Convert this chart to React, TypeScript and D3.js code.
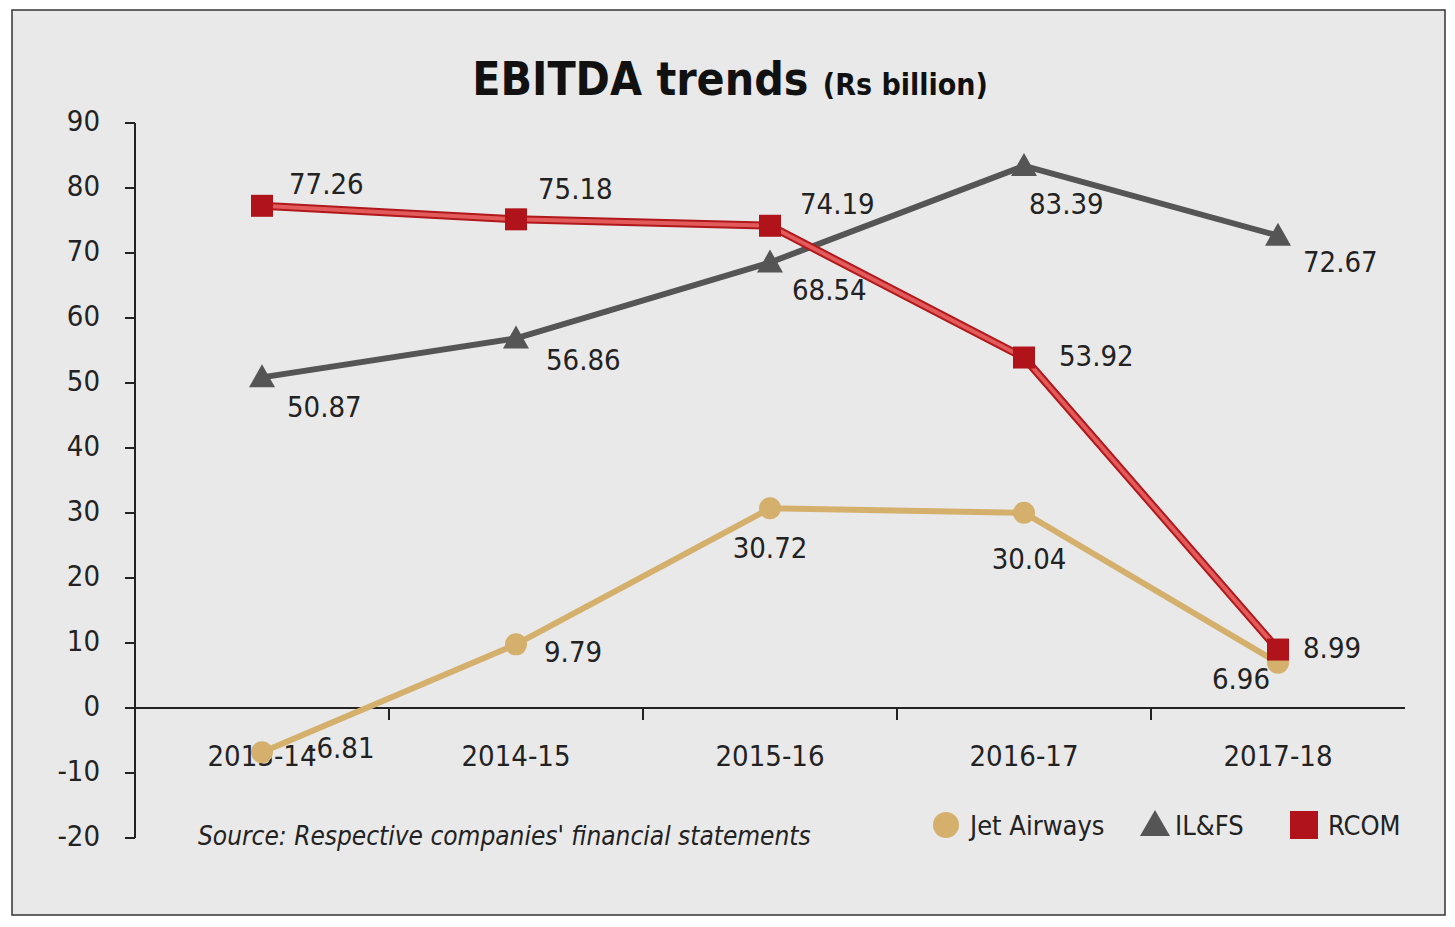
import React from "react";
import * as d3 from "d3";

const categories = ["2013-14", "2014-15", "2015-16", "2016-17", "2017-18"];
const jetAirways = [-6.81, 9.79, 30.72, 30.04, 6.96];
const ilfs = [50.87, 56.86, 68.54, 83.39, 72.67];
const rcom = [77.26, 75.18, 74.19, 53.92, 8.99];
const yTicks = [90, 80, 70, 60, 50, 40, 30, 20, 10, 0, -10, -20];

// label offsets [dx, dy, anchor]
const jetOff: [number, number, string][] = [[45, -2, "start"], [28, 10, "start"], [0, 42, "middle"], [5, 48, "middle"], [-8, 18, "end"]];
const ilfsOff: [number, number, string][] = [[25, 32, "start"], [30, 24, "start"], [22, 30, "start"], [5, 40, "start"], [25, 28, "start"]];
const rcomOff: [number, number, string][] = [[27, -20, "start"], [22, -28, "start"], [30, -20, "start"], [35, 0, "start"], [25, 0, "start"]];

const font = "'Liberation Sans Narrow', 'DejaVu Sans Condensed', Arial, sans-serif";

export default function App() {
  const x = d3.scaleBand().domain(categories).range([135, 1405]);
  const y = d3.scaleLinear().domain([-20, 90]).range([838, 123]);
  const cx = (c: string) => (x(c) as number) + x.bandwidth() / 2;
  const line = d3.line<number>().x((_, i) => cx(categories[i])).y((d) => y(d));

  const labels = (vals: number[], off: [number, number, string][]) =>
    vals.map((v, i) => (
      <text key={i} x={cx(categories[i]) + off[i][0]} y={y(v) + off[i][1]} textAnchor={off[i][2] as any}
        fontSize={29} fill="#222" dominantBaseline="middle">{v.toFixed(2)}</text>
    ));

  return (
    <svg width={1455} height={927} style={{ position: "absolute", left: 0, top: 0 }} fontFamily={font}>
      <rect x={0} y={0} width={1455} height={927} fill="#fff" />
      <rect x={12} y={10} width={1433} height={905} fill="#e9e9e9" stroke="#333" strokeWidth={1.5} />
      <text x={730} y={95} textAnchor="middle" fontWeight="bold" fill="#111">
        <tspan fontSize={46}>EBITDA trends </tspan>
        <tspan fontSize={30}>(Rs billion)</tspan>
      </text>
      <line x1={135} x2={135} y1={123} y2={838} stroke="#222" strokeWidth={2} />
      {yTicks.map((t) => (
        <g key={t}>
          <line x1={125} x2={135} y1={y(t)} y2={y(t)} stroke="#222" strokeWidth={2} />
          <text x={100} y={y(t)} textAnchor="end" dominantBaseline="middle" fontSize={29} fill="#222">{t}</text>
        </g>
      ))}
      <line x1={135} x2={1405} y1={y(0)} y2={y(0)} stroke="#222" strokeWidth={2} />
      {categories.slice(1).map((c) => (
        <line key={c} x1={x(c)} x2={x(c)} y1={y(0)} y2={y(0) + 12} stroke="#222" strokeWidth={2} />
      ))}
      {categories.map((c) => (
        <text key={c} x={cx(c)} y={y(0) + 58} textAnchor="middle" fontSize={29} fill="#222">{c}</text>
      ))}
      <path d={line(jetAirways)!} fill="none" stroke="#d4b06c" strokeWidth={6} />
      {jetAirways.map((v, i) => (
        <circle key={i} cx={cx(categories[i])} cy={y(v)} r={11} fill="#d4b06c" />
      ))}
      <path d={line(ilfs)!} fill="none" stroke="#555" strokeWidth={6} />
      {ilfs.map((v, i) => {
        const px = cx(categories[i]), py = y(v);
        return <path key={i} d={`M${px},${py - 13} L${px + 13},${py + 10} L${px - 13},${py + 10}Z`} fill="#555" />;
      })}
      <path d={line(rcom)!} fill="none" stroke="#b0181c" strokeWidth={8} />
      <path d={line(rcom)!} fill="none" stroke="#e35a5a" strokeWidth={4} />
      {rcom.map((v, i) => (
        <rect key={i} x={cx(categories[i]) - 11} y={y(v) - 11} width={22} height={22} fill="#b0141a" />
      ))}
      {labels(jetAirways, jetOff)}
      {labels(ilfs, ilfsOff)}
      {labels(rcom, rcomOff)}
      <text x={198} y={845} fontSize={26} fontStyle="italic" fill="#222">Source: Respective companies' financial statements</text>
      <circle cx={946} cy={825} r={13} fill="#d4b06c" />
      <text x={970} y={835} fontSize={27} fill="#222">Jet Airways</text>
      <path d="M1155,810 L1170,836 L1140,836Z" fill="#555" />
      <text x={1175} y={835} fontSize={27} fill="#222">IL&amp;FS</text>
      <rect x={1290} y={811} width={28} height={28} fill="#b0141a" />
      <text x={1328} y={835} fontSize={27} fill="#222">RCOM</text>
    </svg>
  );
}
